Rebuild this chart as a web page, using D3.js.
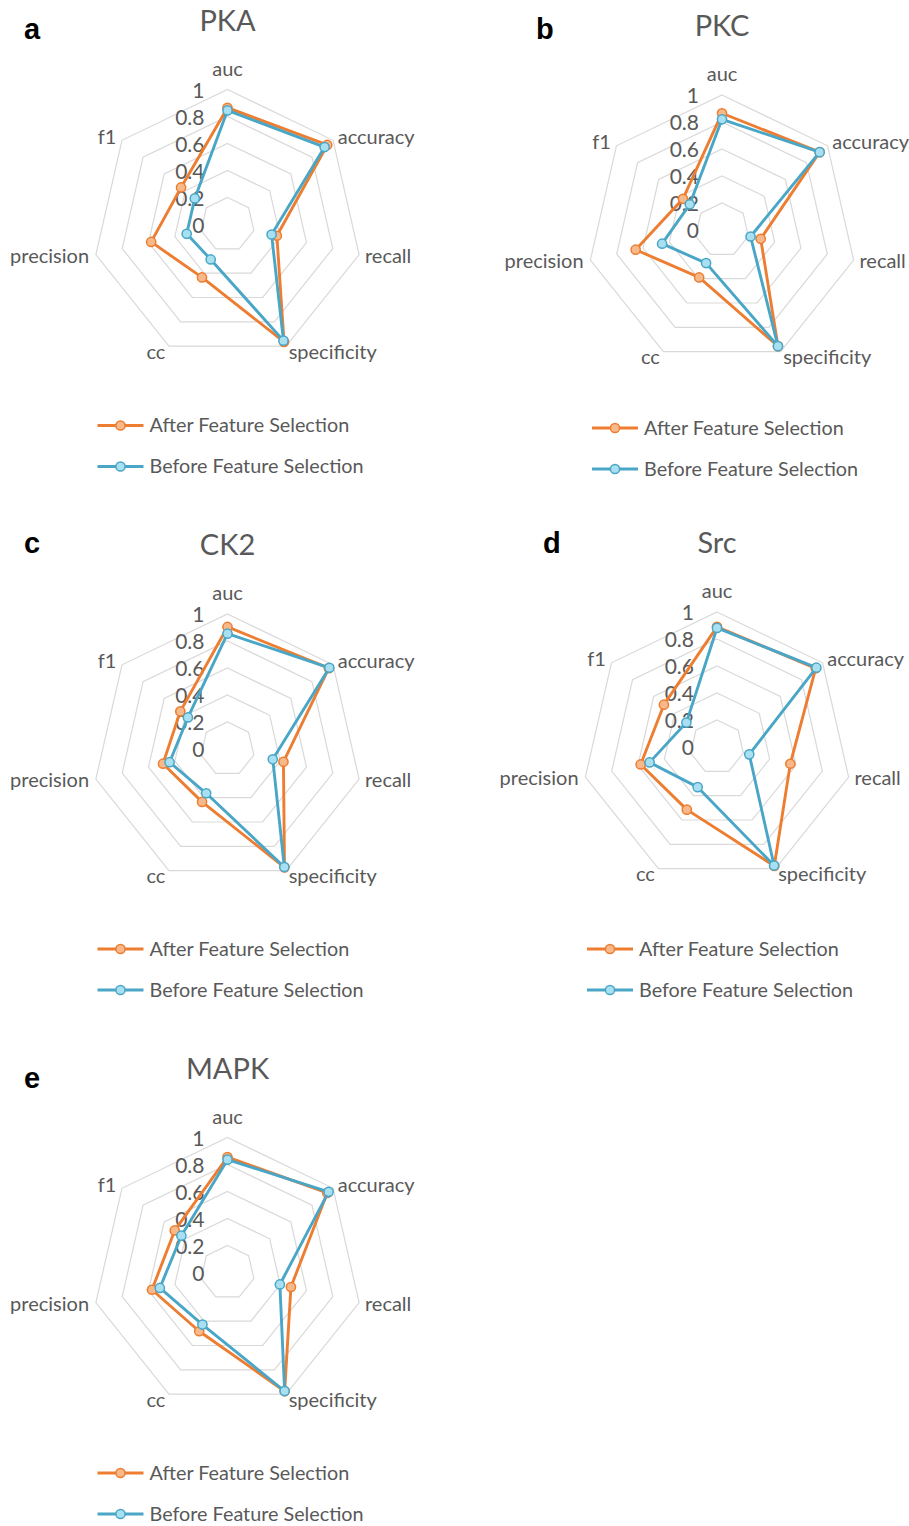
<!DOCTYPE html>
<html lang="en">
<head>
<meta charset="utf-8">
<title>Feature selection radar charts</title>
<script src="https://d3js.org/d3.v7.min.js"></script>
<style>
  body { margin: 0; background: #fff; }
  text { font-family: Lato, "Open Sans", sans-serif; fill: #595959; }
  .grid { fill: none; stroke: #d9d9d9; stroke-width: 1.2px; }
  .letter { font-family: "Liberation Sans", Arial, sans-serif; font-weight: bold; fill: #000; }
</style>
</head>
<body>
<svg width="909" height="1526"></svg>
<script>
// ---- data ----
var metrics = ['auc', 'accuracy', 'recall', 'specificity', 'cc', 'precision', 'f1'];
var kinases = ['PKA', 'PKC', 'CK2', 'Src', 'MAPK'];
var letters = ['a', 'b', 'c', 'd', 'e'];
var ticks = [0, 0.2, 0.4, 0.6, 0.8, 1];
var seriesNames = ['After Feature Selection', 'Before Feature Selection'];

var afterFS = [
  [0.865, 0.945, 0.375, 0.965, 0.435, 0.580, 0.440],  // PKA
  [0.865, 0.925, 0.294, 0.956, 0.390, 0.656, 0.370],  // PKC
  [0.904, 0.960, 0.425, 0.973, 0.435, 0.490, 0.447],  // CK2
  [0.890, 0.935, 0.557, 0.978, 0.515, 0.580, 0.503],  // Src
  [0.855, 0.945, 0.482, 0.976, 0.483, 0.574, 0.500]   // MAPK
];
var beforeFS = [
  [0.845, 0.920, 0.335, 0.955, 0.287, 0.310, 0.310],
  [0.820, 0.925, 0.217, 0.955, 0.272, 0.455, 0.305],
  [0.854, 0.965, 0.344, 0.970, 0.364, 0.440, 0.375],
  [0.882, 0.942, 0.245, 0.975, 0.330, 0.512, 0.290],
  [0.836, 0.958, 0.398, 0.975, 0.428, 0.514, 0.437]
];

// ---- layout ----
var centers = [[227.5, 224.5], [722, 230], [227.5, 749], [717, 747], [227.5, 1272.5]];
var letterPos = [[24, 39], [536, 39], [24, 553], [543, 553], [24, 1088]];
var legendY = [201, 198, 200, 202, 200.5];
var R = 135;
var colors = ['#ed7d31', '#4aa6c6'];
var fills = ['#f7b98a', '#a8e0f2'];

var svg = d3.select('svg');
var r = d3.scaleLinear().domain([0, 1]).range([0, R]);
var angle = d3.scalePoint().domain(metrics.concat(['_end'])).range([0, 2 * Math.PI]);

var radial = d3.lineRadial()
  .angle(function(d) { return angle(d.k); })
  .radius(function(d) { return r(d.v); })
  .curve(d3.curveLinearClosed);

function xy(k, v) {
  var a = angle(k);
  return [r(v) * Math.sin(a), -r(v) * Math.cos(a)];
}

kinases.forEach(function(name, i) {
  var g = svg.append('g')
    .attr('transform', 'translate(' + centers[i][0] + ',' + centers[i][1] + ')');

  svg.append('text').attr('class', 'letter')
    .attr('x', letterPos[i][0]).attr('y', letterPos[i][1])
    .attr('font-size', 29).text(letters[i]);

  g.append('text')
    .attr('x', 0).attr('y', -194)
    .attr('text-anchor', 'middle')
    .attr('font-size', 29)
    .text(name);

  // grid heptagons
  g.selectAll('path.grid')
    .data(ticks.filter(function(t) { return t > 0; }))
    .enter().append('path')
    .attr('class', 'grid')
    .attr('d', function(t) {
      return radial(metrics.map(function(k) { return {k: k, v: t}; }));
    });

  // tick labels
  g.selectAll('text.tick')
    .data(ticks)
    .enter().append('text')
    .attr('class', 'tick')
    .attr('x', -23)
    .attr('y', function(t) { return -r(t) + 1; })
    .attr('dy', '0.35em')
    .attr('text-anchor', 'end')
    .attr('font-size', 21)
    .text(function(t) { return d3.format('~g')(t); });

  // axis labels
  g.selectAll('text.axis')
    .data(metrics)
    .enter().append('text')
    .attr('class', 'axis')
    .attr('font-size', 20)
    .each(function(k) {
      var p = xy(k, 1 + 6 / R);
      var t = d3.select(this).text(k);
      if (k === 'auc') {
        t.attr('x', 0).attr('y', -R - 14).attr('text-anchor', 'middle');
      } else {
        t.attr('x', p[0] + (p[0] > 0 ? 0 : -1)).attr('y', p[1])
          .attr('dy', '0.35em')
          .attr('text-anchor', p[0] > 0 ? 'start' : 'end');
      }
    });

  // series: after first, before on top
  [afterFS[i], beforeFS[i]].forEach(function(vals, s) {
    var pts = metrics.map(function(k, j) { return {k: k, v: vals[j]}; });
    g.append('path')
      .attr('d', radial(pts))
      .attr('fill', 'none')
      .attr('stroke', colors[s])
      .attr('stroke-width', 2.9)
      .attr('stroke-linejoin', 'round');
    g.selectAll('circle.s' + s)
      .data(pts)
      .enter().append('circle')
      .attr('class', 's' + s)
      .attr('cx', function(d) { return xy(d.k, d.v)[0]; })
      .attr('cy', function(d) { return xy(d.k, d.v)[1]; })
      .attr('r', 4.6)
      .attr('fill', fills[s])
      .attr('stroke', colors[s])
      .attr('stroke-width', 1.5);
  });

  // legend
  var lg = g.selectAll('g.legend')
    .data(seriesNames)
    .enter().append('g')
    .attr('class', 'legend')
    .attr('transform', function(d, s) { return 'translate(-130,' + (legendY[i] + 41 * s) + ')'; });
  lg.append('line')
    .attr('x1', 0).attr('x2', 46)
    .attr('stroke', function(d, s) { return colors[s]; })
    .attr('stroke-width', 2.9);
  lg.append('circle')
    .attr('cx', 23).attr('r', 4.6)
    .attr('fill', function(d, s) { return fills[s]; })
    .attr('stroke', function(d, s) { return colors[s]; })
    .attr('stroke-width', 1.5);
  lg.append('text')
    .attr('x', 52).attr('dy', '0.35em')
    .attr('font-size', 19.8)
    .text(function(d) { return d; });
});
</script>
</body>
</html>
